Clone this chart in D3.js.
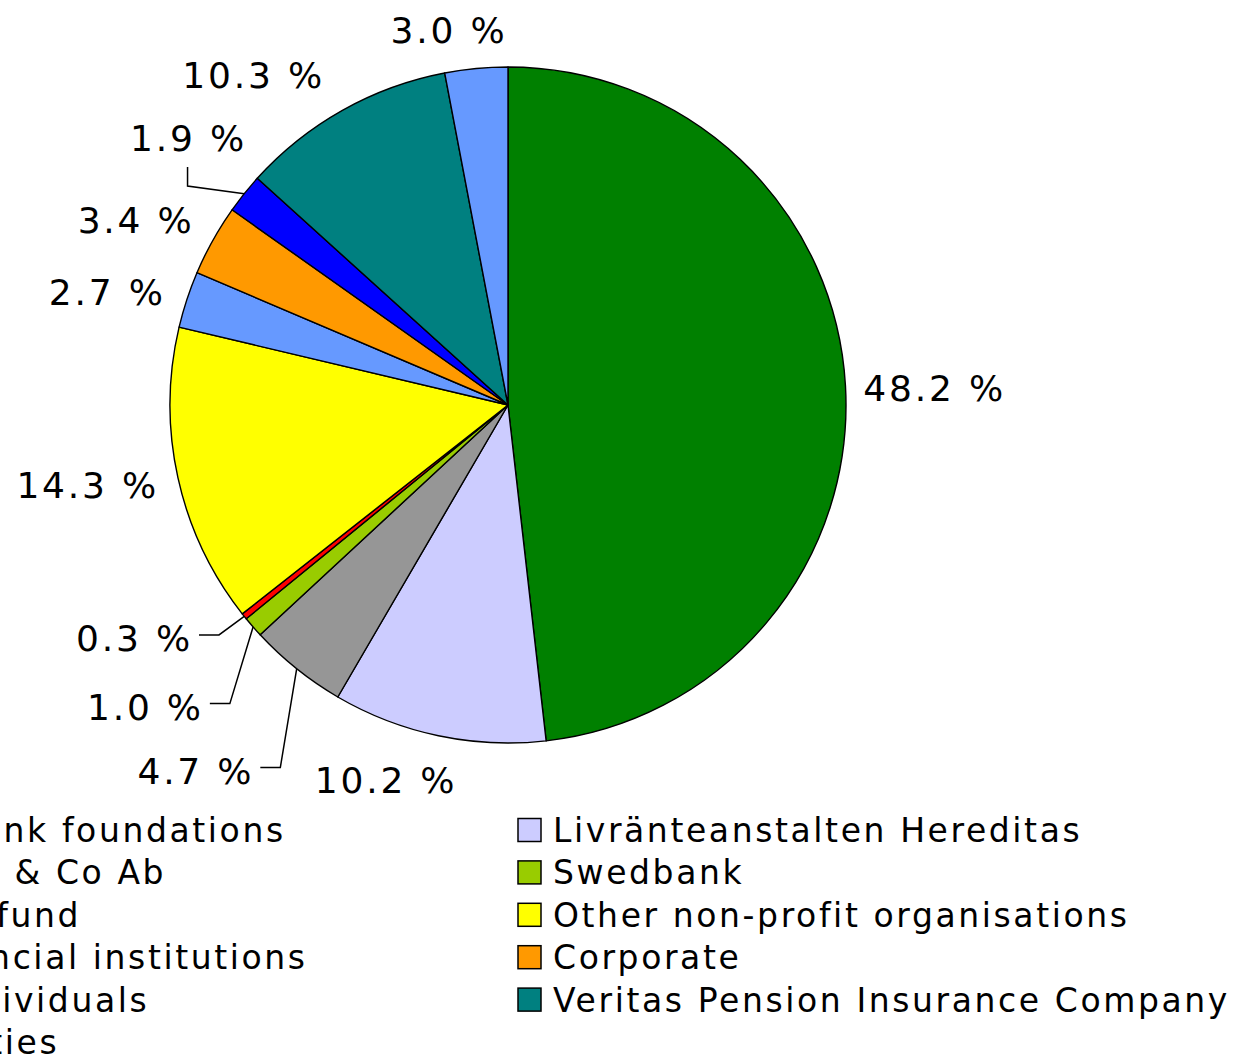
<!DOCTYPE html>
<html>
<head>
<meta charset="utf-8">
<script src="https://cdn.jsdelivr.net/npm/d3@7"></script>
<style>
  body { margin: 0; background: #fff; }
  svg { display: block; font-family: "DejaVu Sans", sans-serif; }
</style>
</head>
<body>
<div id="chart"></div>
<script>
// Shareholders by category (%), clockwise from 12 o'clock
const categories = [
  "Savings bank foundations",
  "Livränteanstalten Hereditas",
  "Hammarén & Co Ab",
  "Swedbank",
  "A pension fund",
  "Other non-profit organisations",
  "Other financial institutions",
  "Corporate",
  "Private individuals",
  "Veritas Pension Insurance Company",
  "Municipalities"
];
const shares = [48.2, 10.2, 4.7, 1.0, 0.3, 14.3, 2.7, 3.4, 1.9, 10.3, 3.0];
const colors = ["#008000", "#ccccff", "#969696", "#99cc00", "#ff0000", "#ffff00",
                "#6699ff", "#ff9900", "#0000ff", "#008080", "#6699ff"];

// label placement tweaks (like Excel's best fit) and which labels get a leader line
const labelShift = new Map([
  ["Savings bank foundations", [0, 4]],
  ["Livränteanstalten Hereditas", [-34, 12]],
  ["Hammarén & Co Ab", [-53, 76]],
  ["Swedbank", [-50, 58]],
  ["A pension fund", [-50, 1]],
  ["Other non-profit organisations", [-3, 0]],
  ["Other financial institutions", [-7, 3]],
  ["Corporate", [-10, -4]],
  ["Private individuals", [4, -35]],
  ["Veritas Pension Insurance Company", [-45, -7]],
  ["Municipalities", [-20, -6]]
]);
const withLeader = new Set(["Hammarén & Co Ab", "Swedbank", "A pension fund", "Private individuals"]);

const width = 1238, height = 1059;
const cx = 508, cy = 405, radius = 338;

const svg = d3.select("#chart")
    .append("svg")
    .attr("width", width)
    .attr("height", height);

const rows = categories.map((c, i) => ({ category: c, share: shares[i] }));

const color = d3.scaleOrdinal()
    .domain(categories)
    .range(colors);

const pie = d3.pie()
    .sort(null)
    .value(d => d.share);

const arc = d3.arc()
    .innerRadius(0)
    .outerRadius(radius);

const arcs = pie(rows);

const g = svg.append("g")
    .attr("transform", `translate(${cx},${cy})`);

g.selectAll("path.slice")
    .data(arcs)
    .join("path")
    .attr("class", "slice")
    .attr("d", arc)
    .attr("fill", d => color(d.data.category))
    .attr("stroke", "#000")
    .attr("stroke-width", 1.4)
    .attr("stroke-linejoin", "round");

// percentage labels
const fmt = v => d3.format(".1f")(v) + " %";
const labelH = 30;

const labels = g.selectAll("text.pct")
    .data(arcs)
    .join("text")
    .attr("class", "pct")
    .style("font-size", "36px")
    .style("letter-spacing", "2.8px")
    .attr("fill", "#000")
    .text(d => fmt(d.data.share));

labels.each(function(d) {
  const w = this.getComputedTextLength();
  const a = (d.startAngle + d.endAngle) / 2;
  const s = Math.sin(a), c = Math.cos(a);
  const R = radius + 18;
  const shift = labelShift.get(d.data.category) || [0, 0];
  d.lx = s * R + s * w / 2 + shift[0];
  d.ly = -c * R - c * labelH / 2 + shift[1];
  d.w = w;
  d.ax = s * radius;
  d.ay = -c * radius;
  d3.select(this)
      .attr("x", d.lx - w / 2)
      .attr("y", d.ly + 13);
});

// leader lines for displaced labels
g.selectAll("path.leader")
    .data(arcs.filter(d => withLeader.has(d.data.category)))
    .join("path")
    .attr("class", "leader")
    .attr("fill", "none")
    .attr("stroke", "#000")
    .attr("stroke-width", 1.5)
    .attr("d", d => {
      let sx, sy, ex, ey;
      if (d.ly > 0) {
        sx = d.lx + d.w / 2 + 6; sy = d.ly - 3;
        ex = sx + 20; ey = sy;
      } else {
        sx = d.lx - 1; sy = d.ly + 29;
        ex = sx; ey = d.ly + 48;
      }
      return `M${sx},${sy}L${ex},${ey}L${d.ax},${d.ay}`;
    });

// legend, two columns filled row by row
const legendX = [-238, 518];
const legendTop = 830, legendStep = 42.4, box = 23;

const items = svg.selectAll("g.legend")
    .data(rows)
    .join("g")
    .attr("class", "legend")
    .attr("transform", (d, i) =>
      `translate(${legendX[i % 2]},${legendTop + Math.floor(i / 2) * legendStep})`);

items.append("rect")
    .attr("x", 0)
    .attr("y", -box / 2)
    .attr("width", box)
    .attr("height", box)
    .attr("fill", d => color(d.category))
    .attr("stroke", "#000")
    .attr("stroke-width", 1.5);

items.append("text")
    .attr("x", 35)
    .attr("y", 12)
    .style("font-size", "33px")
    .style("letter-spacing", "2.6px")
    .text(d => d.category);
</script>
</body>
</html>
